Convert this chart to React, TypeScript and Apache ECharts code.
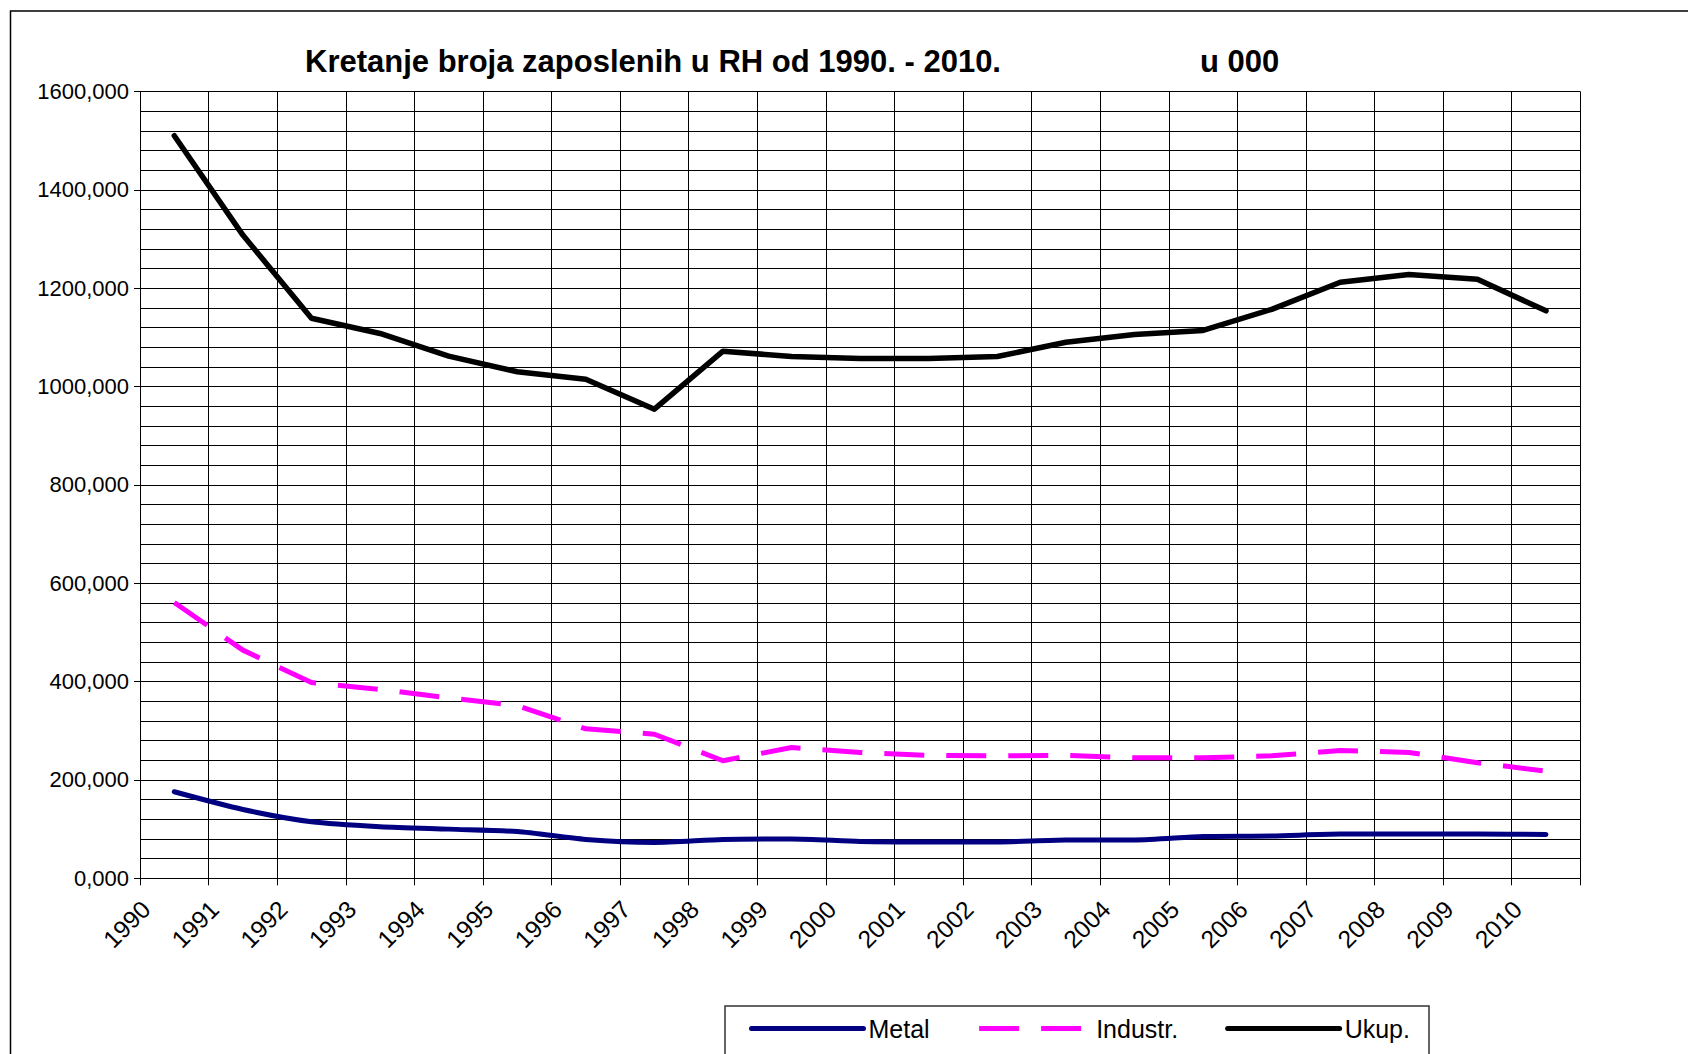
import React, { useEffect, useRef } from "react";
import * as echarts from "echarts";

const FONT = '"Liberation Sans", Arial, sans-serif';

const years = [
  "1990", "1991", "1992", "1993", "1994", "1995", "1996", "1997", "1998", "1999", "2000",
  "2001", "2002", "2003", "2004", "2005", "2006", "2007", "2008", "2009", "2010",
];
const metal = [176, 140, 115, 105, 100, 95, 79, 73, 79, 80, 75, 74, 74, 78, 78, 85, 86, 90, 90, 90, 89];
const industr = [561, 464, 398, 384, 367, 351, 304, 293, 239, 266, 256, 250, 249, 250, 245, 245, 249, 260, 256, 235, 218];
const ukup = [1510, 1308, 1139, 1108, 1062, 1030, 1015, 954, 1072, 1061, 1057, 1057, 1061, 1090, 1106, 1114, 1157, 1212, 1228, 1218, 1154];

const yMin = 0;
const yMax = 1600;
const yInterval = 200;
const seriesNames = ["Metal", "Industr.", "Ukup."];
const titleMain = "Kretanje broja zaposlenih u RH od 1990. - 2010.";
const titleUnit = "u 000";

export default function App() {
  const ref = useRef<HTMLDivElement>(null);

  useEffect(() => {
    const chart = echarts.init(ref.current as HTMLDivElement, undefined, { renderer: "svg" });
    chart.setOption({
      animation: false,
      backgroundColor: "#ffffff",
      textStyle: { fontFamily: FONT },
      grid: {
        left: 140,
        top: 91.5,
        width: 1440.3,
        height: 786.8,
        containLabel: false,
        outerBoundsMode: "none",
      },
      xAxis: {
        type: "category",
        data: years,
        boundaryGap: true,
        axisLine: { show: true, lineStyle: { color: "#000", width: 1 } },
        axisTick: { show: true, length: 7, interval: 0, lineStyle: { color: "#000", width: 1 } },
        axisLabel: {
          interval: 0,
          rotate: 45,
          margin: -1.5,
          padding: [0, 40, 0, 0],
          fontSize: 24.5,
          color: "#000",
          fontFamily: FONT,
        },
        splitLine: { show: true, interval: 0, lineStyle: { color: "#000", width: 1 } },
      },
      yAxis: {
        type: "value",
        min: yMin,
        max: yMax,
        interval: yInterval,
        axisLine: { show: true, lineStyle: { color: "#000", width: 1 } },
        axisTick: { show: true, length: 6, lineStyle: { color: "#000", width: 1 } },
        axisLabel: {
          margin: 11,
          fontSize: 22,
          color: "#000",
          fontFamily: FONT,
          formatter: (v: number) => v.toFixed(3).replace(".", ","),
        },
        splitLine: { show: true, lineStyle: { color: "#000", width: 1 } },
        minorTick: { show: false, splitNumber: 5 },
        minorSplitLine: { show: true, lineStyle: { color: "#000", width: 1 } },
      },
      legend: {
        data: seriesNames,
        left: 749,
        top: 1016,
        orient: "horizontal",
        padding: 0,
        itemWidth: 112,
        itemHeight: 24,
        itemGap: 47,
        itemStyle: { opacity: 0 },
        lineStyle: { width: 5 },
        textStyle: { fontSize: 25, color: "#000", fontFamily: FONT },
        selectedMode: false,
      },
      series: [
        {
          name: seriesNames[0],
          type: "line",
          data: metal,
          symbol: "none",
          smooth: 0.25,
          itemStyle: { color: "#000080" },
          lineStyle: { color: "#000080", width: 5, cap: "round", join: "round" },
          z: 3,
        },
        {
          name: seriesNames[1],
          type: "line",
          data: industr,
          symbol: "none",
          itemStyle: { color: "#FF00FF" },
          lineStyle: { color: "#FF00FF", width: 5, type: [40, 22], cap: "butt", join: "round" },
          z: 3,
        },
        {
          name: seriesNames[2],
          type: "line",
          data: ukup,
          symbol: "none",
          itemStyle: { color: "#000000" },
          lineStyle: { color: "#000000", width: 5.5, cap: "round", join: "round" },
          z: 3,
        },
      ],
      graphic: [
        {
          type: "rect",
          silent: true,
          shape: { x: 10.5, y: 11, width: 2000, height: 2000 },
          style: { fill: "none", stroke: "#000", lineWidth: 1.5 },
        },
        {
          type: "rect",
          silent: true,
          shape: { x: 725, y: 1006, width: 704, height: 200 },
          style: { fill: "none", stroke: "#333", lineWidth: 1.5 },
        },
        {
          type: "text",
          silent: true,
          x: 305,
          y: 61,
          style: {
            text: titleMain,
            fontSize: 31,
            fontWeight: "bold",
            fontFamily: FONT,
            fill: "#000",
            align: "left",
            verticalAlign: "middle",
          },
        },
        {
          type: "text",
          silent: true,
          x: 1200,
          y: 61,
          style: {
            text: titleUnit,
            fontSize: 31,
            fontWeight: "bold",
            fontFamily: FONT,
            fill: "#000",
            align: "left",
            verticalAlign: "middle",
          },
        },
      ],
    });
    return () => chart.dispose();
  }, []);

  return (
    <div
      ref={ref}
      style={{ position: "fixed", left: 0, top: 0, width: 1688, height: 1054, background: "#fff" }}
    />
  );
}
